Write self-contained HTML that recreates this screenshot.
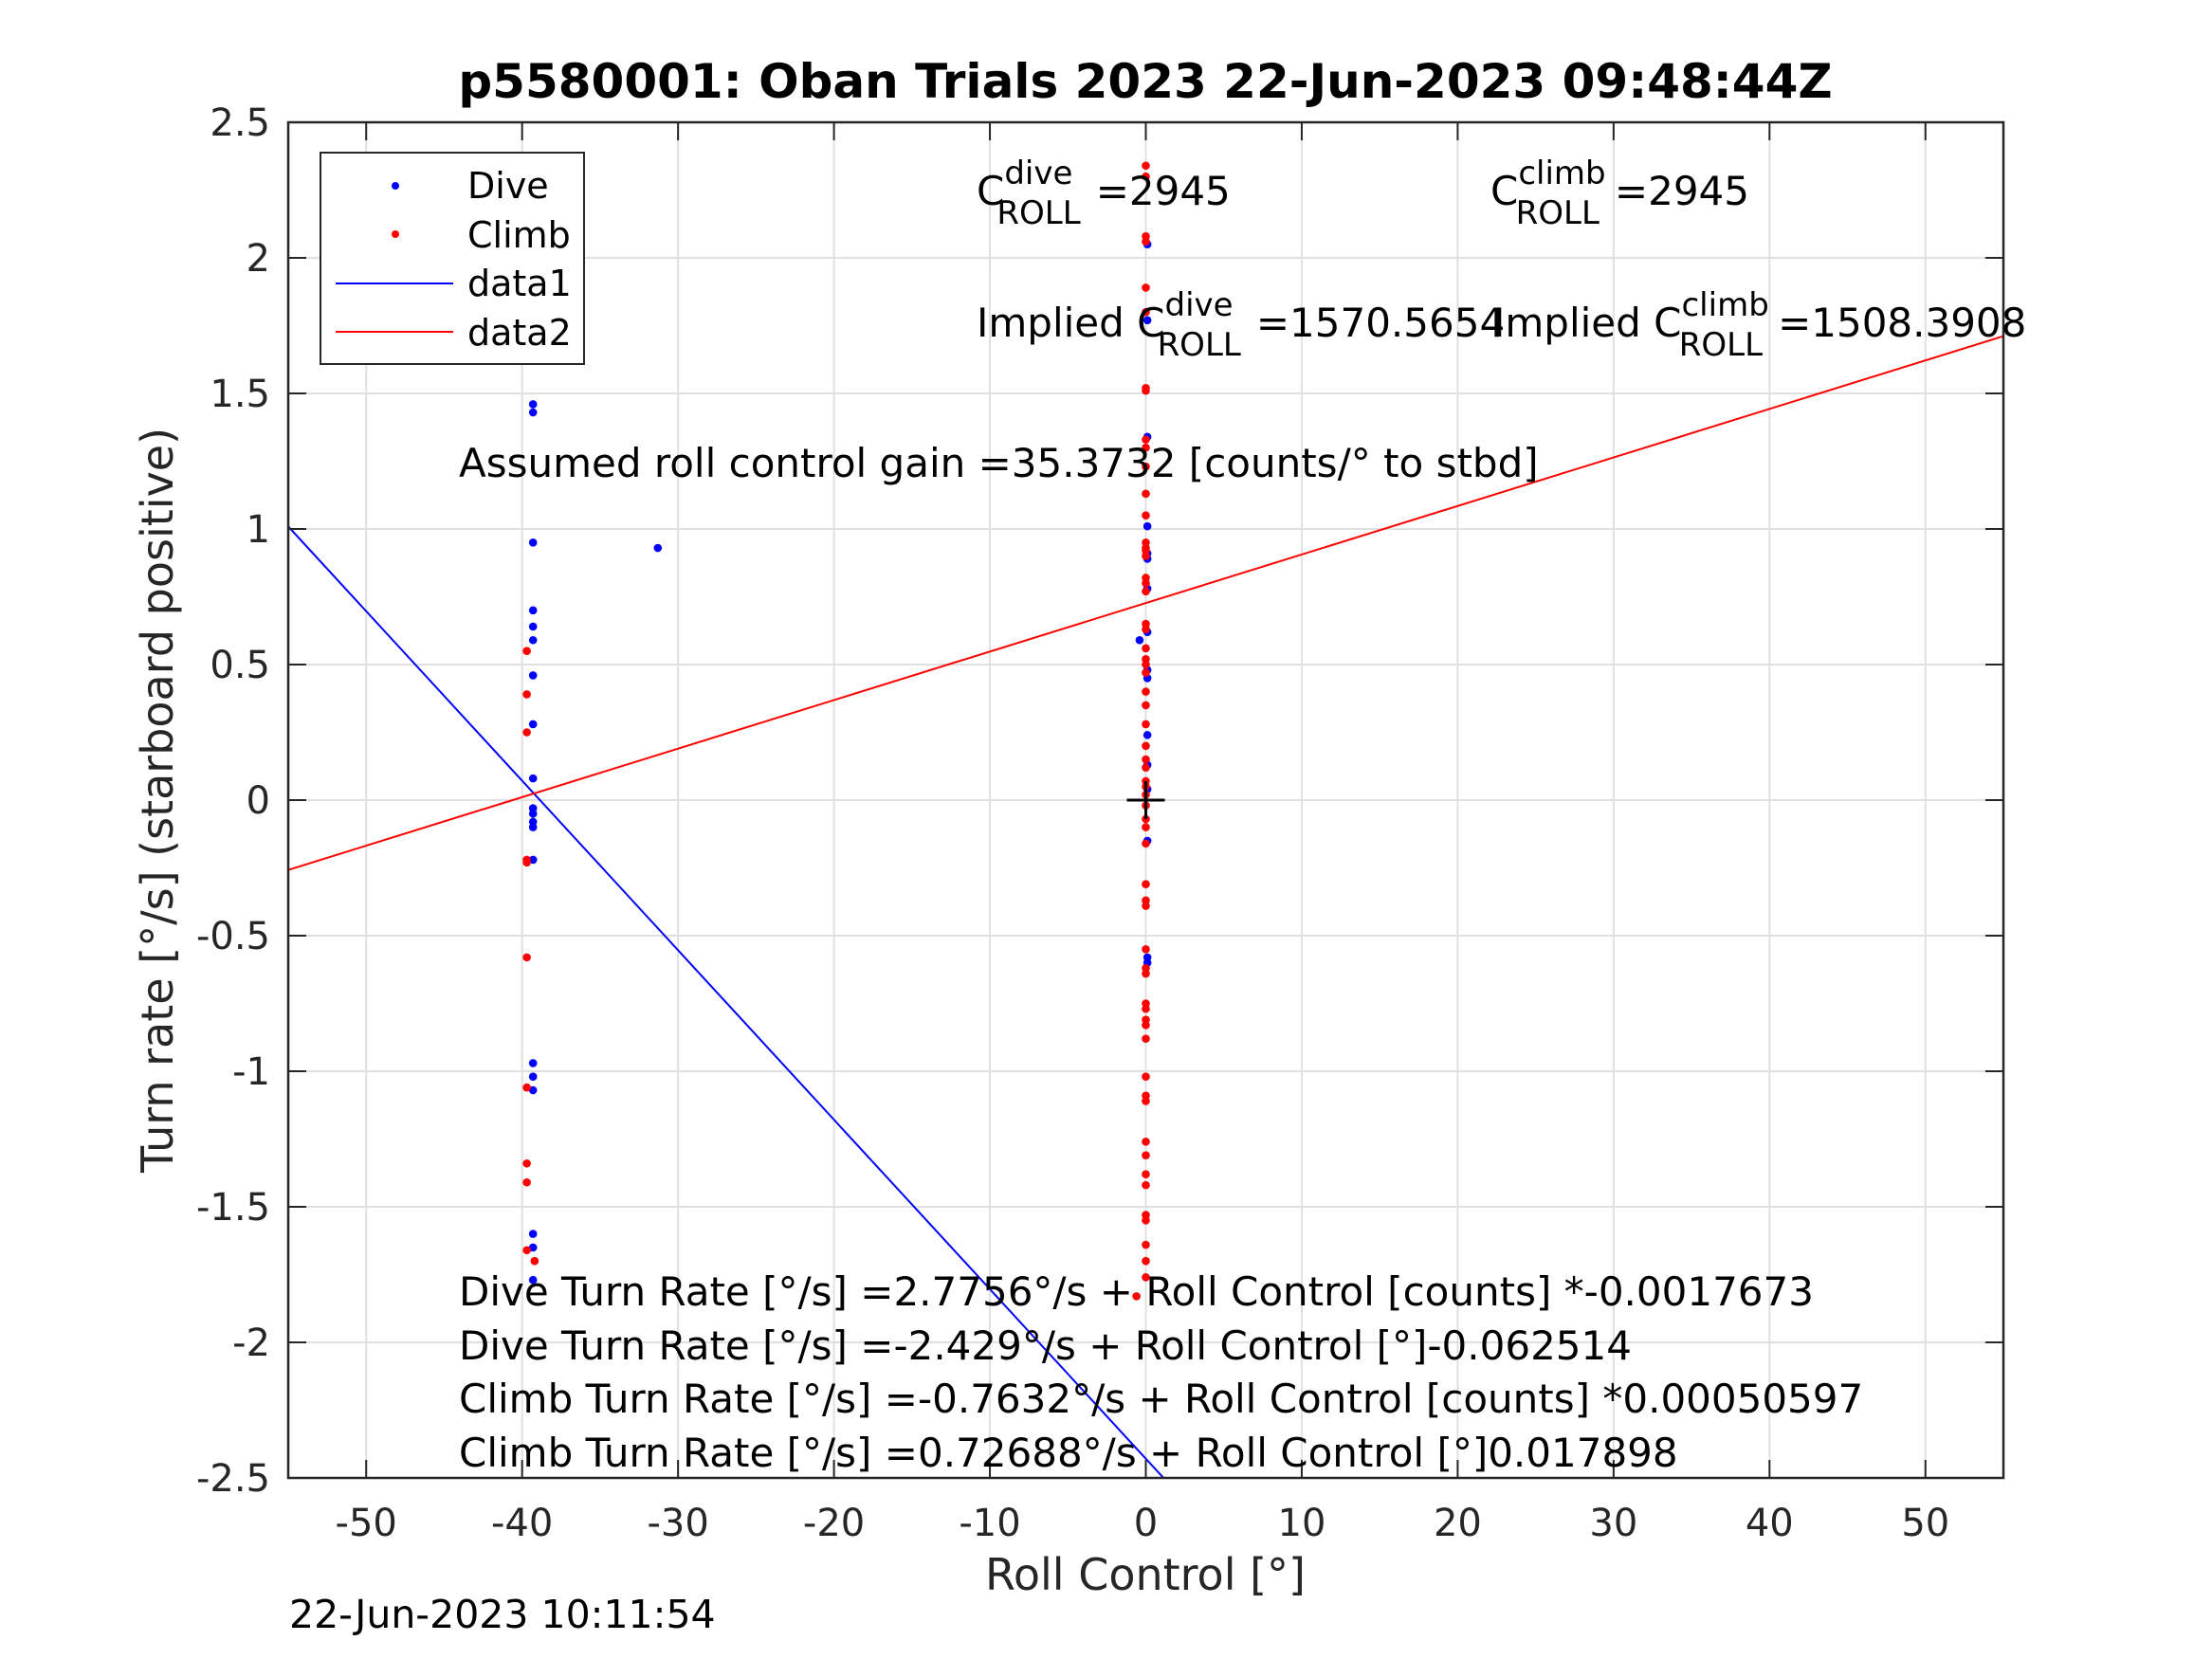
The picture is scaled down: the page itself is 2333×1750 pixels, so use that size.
<!DOCTYPE html>
<html><head><meta charset="utf-8"><style>
html,body{margin:0;padding:0;background:#fff;width:2333px;height:1750px;overflow:hidden}
svg{display:block;font-family:"DejaVu Sans","Liberation Sans",sans-serif}
</style></head><body>
<svg id="chart" width="2333" height="1750" viewBox="0 0 2333 1750" xmlns="http://www.w3.org/2000/svg">
<rect width="2333" height="1750" fill="#fff"/>
<g id="grid"></g>
<g id="fits"></g>
<g id="pts"></g>
<g id="axes"></g>
<text x="1208" y="103" font-size="50" font-weight="bold" text-anchor="middle" fill="#000">p5580001: Oban Trials 2023 22-Jun-2023 09:48:44Z</text>
<g font-size="42" fill="#000">
<text x="1030" y="216">C<tspan font-size="34" dy="-22">dive</tspan><tspan font-size="34" dx="-80" dy="42">ROLL</tspan><tspan dy="-20" dx="16">=2945</tspan></text>
<text x="1572" y="216">C<tspan font-size="34" dy="-22">climb</tspan><tspan font-size="34" dx="-95" dy="42">ROLL</tspan><tspan dy="-20" dx="16">=2945</tspan></text>
<text x="1030" y="355">Implied C<tspan font-size="34" dy="-22">dive</tspan><tspan font-size="34" dx="-80" dy="42">ROLL</tspan><tspan dy="-20" dx="16">=1570.5654</tspan></text>
<text x="1575" y="355">Implied C<tspan font-size="34" dy="-22">climb</tspan><tspan font-size="34" dx="-95" dy="42">ROLL</tspan><tspan dy="-20" dx="16">=1508.3908</tspan></text>
<text x="484" y="503">Assumed roll control gain =35.3732 [counts/° to stbd]</text>
<text x="484" y="1377">Dive Turn Rate [°/s] =2.7756°/s + Roll Control [counts] *-0.0017673</text>
<text x="484" y="1434">Dive Turn Rate [°/s] =-2.429°/s + Roll Control [°]-0.062514</text>
<text x="484" y="1490">Climb Turn Rate [°/s] =-0.7632°/s + Roll Control [counts] *0.00050597</text>
<text x="484" y="1547">Climb Turn Rate [°/s] =0.72688°/s + Roll Control [°]0.017898</text>
</g>
<text x="1208" y="1677" font-size="46" text-anchor="middle" fill="#262626">Roll Control [°]</text>
<text transform="translate(182,844) rotate(-90)" font-size="46" text-anchor="middle" fill="#262626">Turn rate [°/s] (starboard positive)</text>
<text x="305" y="1717" font-size="41" fill="#000">22-Jun-2023 10:11:54</text>
<g>
<rect x="338" y="161" width="278" height="223" fill="#fff" stroke="#262626" stroke-width="2"/>
<circle cx="417" cy="196" r="4" fill="#0000ff"/>
<text x="493" y="209" font-size="38" fill="#000">Dive</text>
<circle cx="417" cy="247" r="4" fill="#ff0000"/>
<text x="493" y="261" font-size="38" fill="#000">Climb</text>
<line x1="354" y1="299" x2="478" y2="299" stroke="#0000ff" stroke-width="2"/>
<text x="493" y="312" font-size="38" fill="#000">data1</text>
<line x1="354" y1="350" x2="478" y2="350" stroke="#ff0000" stroke-width="2"/>
<text x="493" y="364" font-size="38" fill="#000">data2</text>
</g>
</svg>
<script>
const xTicks=[-50,-40,-30,-20,-10,0,10,20,30,40,50];
const yTicks=[-2.5,-2,-1.5,-1,-0.5,0,0.5,1,1.5,2,2.5];
const yTickLabels=["-2.5","-2","-1.5","-1","-0.5","0","0.5","1","1.5","2","2.5"];
const fitIntercepts=[-2.429,0.72688];
const fitSlopes=[-0.062514,0.017898];
const fitColors=["#0000ff","#ff0000"];
const diveX=[-39.3,-39.3,-39.3,-39.3,-39.3,-39.3,-39.3,-39.3,-39.3,-39.3,-39.3,-39.3,-39.3,-39.3,-39.3,-39.3,-39.3,-39.3,-39.3,-39.3,-39.3,-31.3,
0.1,0.1,0.1,0.1,0.1,0.1,0.1,0.1,0.1,0.1,0.1,0.1,0.1,0.1,0.1,0.1,-0.4];
const diveY=[2.04,1.46,1.43,0.95,0.70,0.64,0.59,0.46,0.28,0.08,-0.03,-0.05,-0.08,-0.10,-0.22,-0.97,-1.02,-1.07,-1.60,-1.65,-1.77,0.93,
2.05,1.77,1.34,1.01,0.91,0.89,0.78,0.62,0.48,0.45,0.24,0.13,0.04,-0.15,-0.58,-0.60,0.59];
const climbX=[-39.7,-39.7,-39.7,-39.7,-39.7,-39.7,-39.7,-39.7,-39.7,-39.7,-39.7,-39.2,
0,0,0,0,0,0,0,0,0,0,0,0,0,0,0,0,0,0,0,0,0,0,0,0,0,0,0,0,0,0,0,0,0,0,0,0,0,0,0,0,0,0,0,0,0,0,0,0,0,0,0,0,0,0,0,0,0,0,0,0,0,0,-0.6];
const climbY=[2.03,0.55,0.39,0.25,-0.22,-0.23,-0.58,-1.06,-1.34,-1.41,-1.66,-1.70,
2.34,2.30,2.08,2.06,1.89,1.80,1.52,1.51,1.33,1.30,1.23,1.13,1.05,0.95,0.93,0.92,0.90,0.82,0.80,0.77,0.65,0.63,0.56,0.52,0.50,0.47,0.40,0.35,0.28,0.20,0.15,0.12,0.07,0.05,0.02,-0.02,-0.07,-0.10,-0.16,-0.31,-0.37,-0.39,-0.55,-0.62,-0.64,-0.75,-0.77,-0.81,-0.83,-0.88,-1.02,-1.09,-1.11,-1.26,-1.31,-1.38,-1.42,-1.53,-1.55,-1.64,-1.70,-1.76,-1.83,-2.07,-2.18,-2.41,0.93];

const L=304,R=2113,T=129,B=1559,XMIN=-55,XMAX=55,YMIN=-2.5,YMAX=2.5;
const sx=v=>L+(v-XMIN)/(XMAX-XMIN)*(R-L);
const sy=v=>B-(v-YMIN)/(YMAX-YMIN)*(B-T);
const NS="http://www.w3.org/2000/svg";
function mk(tag,attrs,parent){const e=document.createElementNS(NS,tag);for(const k in attrs)e.setAttribute(k,attrs[k]);parent.appendChild(e);return e;}
const grid=document.getElementById('grid'),axes=document.getElementById('axes'),pts=document.getElementById('pts'),fits=document.getElementById('fits');
mk('rect',{x:L,y:T,width:R-L,height:B-T,fill:'#fff'},grid);
xTicks.forEach((t,i)=>{
  const g=mk('line',{x1:sx(t),x2:sx(t),y1:T,y2:B,stroke:'#e0e0e0','stroke-width':2},grid);
  
  
  const a=mk('line',{x1:sx(t),x2:sx(t),y1:B,y2:B-19,stroke:'#262626','stroke-width':2},axes);
  
  
  const b=mk('line',{x1:sx(t),x2:sx(t),y1:T,y2:T+19,stroke:'#262626','stroke-width':2},axes);
  
  
  const lb=mk('text',{x:sx(t),y:1620,'font-size':40,'text-anchor':'middle',fill:'#262626'},axes);
  
  
  lb.textContent=String(t);
});
yTicks.forEach((t,i)=>{
  const g=mk('line',{x1:L,x2:R,y1:sy(t),y2:sy(t),stroke:'#e0e0e0','stroke-width':2},grid);
  
  
  const a=mk('line',{x1:L,x2:L+19,y1:sy(t),y2:sy(t),stroke:'#262626','stroke-width':2},axes);
  
  
  const b=mk('line',{x1:R,x2:R-19,y1:sy(t),y2:sy(t),stroke:'#262626','stroke-width':2},axes);
  
  
  const lb=mk('text',{x:285,y:sy(t)+14,'font-size':40,'text-anchor':'end',fill:'#262626'},axes);
  
  
  lb.textContent=yTickLabels[i];
});
const box=mk('rect',{x:L,y:T,width:R-L,height:B-T,fill:'none',stroke:'#262626','stroke-width':2.5},axes);


const defs=mk('defs',{},document.getElementById('chart'));
const cp=mk('clipPath',{id:'clip'},defs);
mk('rect',{x:L,y:T,width:R-L,height:B-T},cp);
fits.setAttribute('clip-path','url(#clip)');
fitIntercepts.forEach((b0,i)=>{
  const m=fitSlopes[i];
  const ln=mk('line',{x1:sx(XMIN),y1:sy(b0+m*XMIN),x2:sx(XMAX),y2:sy(b0+m*XMAX),stroke:fitColors[i],'stroke-width':2},fits);
  
  
});
diveX.forEach((x,i)=>{
  const c=mk('circle',{cx:sx(x),cy:sy(diveY[i]),r:4.3,fill:'#0000ff'},pts);
  
  
});
climbX.forEach((x,i)=>{
  const c=mk('circle',{cx:sx(x),cy:sy(climbY[i]),r:4.3,fill:'#ff0000'},pts);
  
  
});
const pl=mk('path',{d:`M${sx(0)-20},${sy(0)}H${sx(0)+20}M${sx(0)},${sy(0)-20}V${sy(0)+20}`,stroke:'#000','stroke-width':3},pts);


</script>
</body></html>
